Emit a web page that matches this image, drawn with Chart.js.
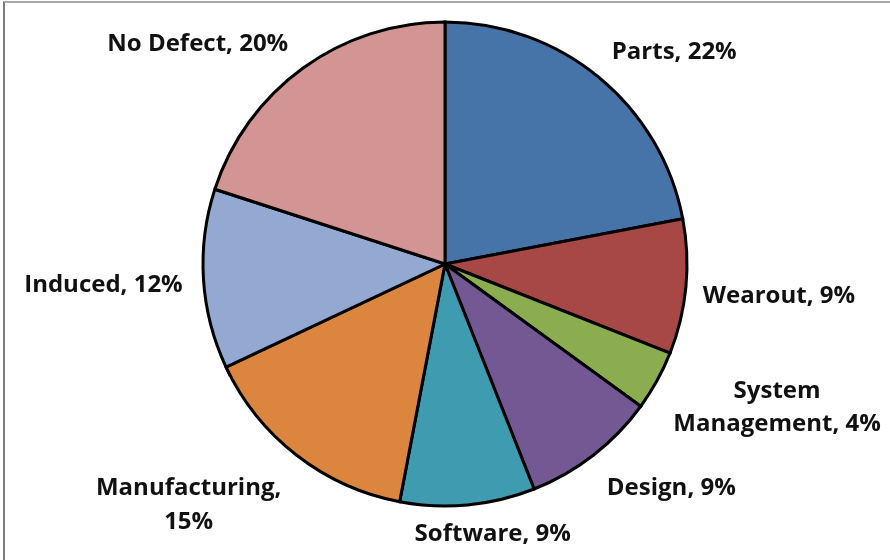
<!DOCTYPE html>
<html>
<head>
<meta charset="utf-8">
<script src="https://cdn.jsdelivr.net/npm/chart.js@4.4.1/dist/chart.umd.min.js"></script>
<style>
    html, body { margin: 0; padding: 0; background: #fff; }
    #wrap { position: relative; width: 890px; height: 560px; overflow: hidden; }
    #frame {
        position: absolute; left: 3px; top: 1px; width: 900px; height: 600px;
        border-top: 2px solid #a8a8a8; border-left: 2px solid #7c7c7c;
        pointer-events: none;
    }
</style>
</head>
<body>
<div id="wrap">
    <canvas id="pie" width="890" height="560"></canvas>
    <div id="frame"></div>
</div>
<script>
// Defect causes, in percent (clockwise from 12 o'clock)
const categories = ['Parts', 'Wearout', 'System Management', 'Design', 'Software', 'Manufacturing', 'Induced', 'No Defect'];
const shares = [22, 9, 4, 9, 9, 15, 12, 20];
const sliceColors = ['#4674a9', '#a74846', '#8bad50', '#735893', '#3e9bb0', '#dc853e', '#93a9d1', '#d39494'];

// how each label is broken into lines
const labelLines = [
    ['Parts, 22%'],
    ['Wearout, 9%'],
    ['System', 'Management, 4%'],
    ['Design, 9%'],
    ['Software, 9%'],
    ['Manufacturing,', '15%'],
    ['Induced, 12%'],
    ['No Defect, 20%']
];
// label centre, shifted from the slice's outer mid-point
const labelNudge = [[75, -25], [93, 9], [120, 27], [78, 33], [25, 29], [-108, 50], [-100, 6], [-105, -24]];

const FONT = 'bold 24px "Open Sans", "DejaVu Sans", sans-serif';
const LINE_H = 33.5;

const outsideLabels = {
    id: 'outsideLabels',
    afterDatasetsDraw(chart) {
        const ctx = chart.ctx;
        const meta = chart.getDatasetMeta(0);
        ctx.save();
        ctx.font = FONT;
        ctx.fillStyle = '#111';
        ctx.textAlign = 'center';
        ctx.textBaseline = 'middle';
        meta.data.forEach((arc, i) => {
            const p = arc.getProps(['x', 'y', 'startAngle', 'endAngle', 'outerRadius'], true);
            const mid = (p.startAngle + p.endAngle) / 2;
            const ax = p.x + Math.cos(mid) * p.outerRadius + labelNudge[i][0];
            const ay = p.y + Math.sin(mid) * p.outerRadius + labelNudge[i][1];
            const lines = labelLines[i];
            const top = ay - (lines.length - 1) * LINE_H / 2;
            lines.forEach((t, k) => ctx.fillText(t, ax, top + k * LINE_H));
        });
        ctx.restore();
    }
};

new Chart(document.getElementById('pie'), {
    type: 'pie',
    data: {
        labels: categories,
        datasets: [{
            data: shares,
            backgroundColor: sliceColors,
            borderColor: '#000',
            borderWidth: 3,
            borderJoinStyle: 'miter'
        }]
    },
    options: {
        responsive: false,
        animation: false,
        radius: 242,
        layout: { padding: { top: 0, bottom: 32, left: 0, right: 0 } },
        plugins: {
            legend: { display: false },
            tooltip: { enabled: false }
        }
    },
    plugins: [outsideLabels]
});
</script>
</body>
</html>
